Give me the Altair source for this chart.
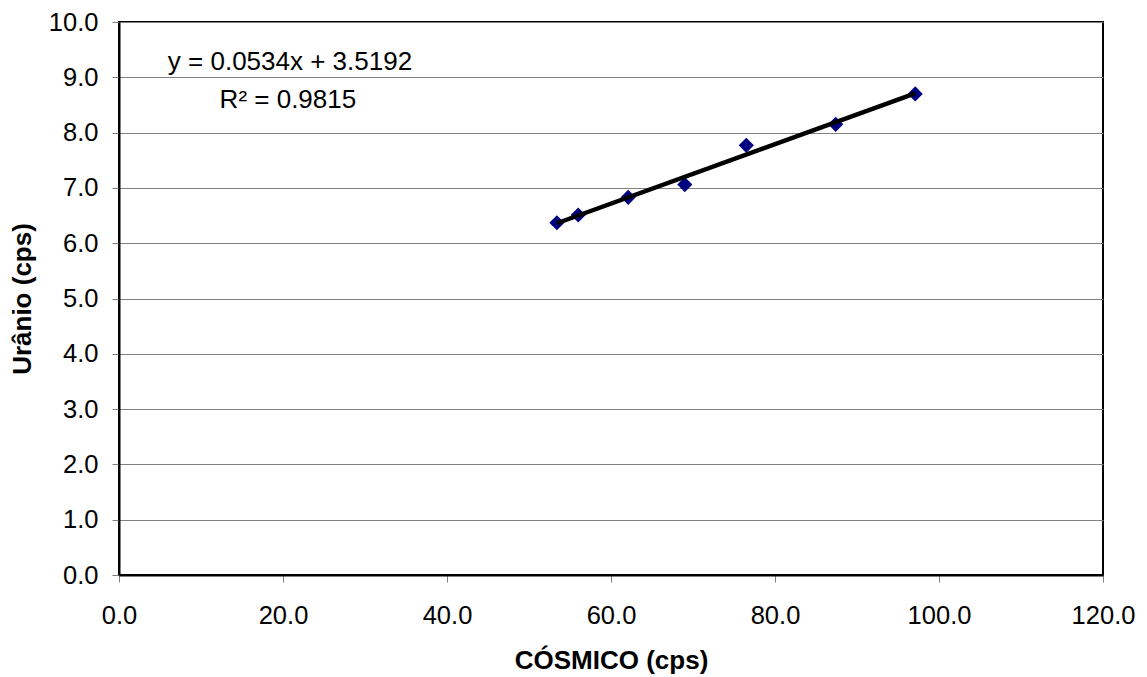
import altair as alt
import pandas as pd

# Data
cosmico = [53.4, 56.0, 62.1, 69.0, 76.5, 87.4, 97.1]
uranio = [6.37, 6.51, 6.83, 7.06, 7.77, 8.15, 8.70]

eq_lines = ["y = 0.0534x + 3.5192", "R² = 0.9815"]
eq_x = [20.85, 20.6]
eq_y = [9.13, 8.44]

x_ticks = [0, 20, 40, 60, 80, 100, 120]
y_ticks = [0, 1, 2, 3, 4, 5, 6, 7, 8, 9, 10]

df = pd.DataFrame({"cosmico": cosmico, "uranio": uranio})
eq_df = pd.DataFrame({"text": eq_lines, "x": eq_x, "y": eq_y})

FONT = "Liberation Sans"

x_enc = alt.X(
    "cosmico:Q",
    scale=alt.Scale(domain=[0, 120], nice=False, zero=False),
    axis=alt.Axis(
        title="CÓSMICO (cps)",
        values=x_ticks,
        format=".1f",
        grid=False,
        domainColor="black",
        domainWidth=2,
        tickColor="#808080",
        tickWidth=1,
        tickSize=7,
        labelFont=FONT,
        labelFontSize=25.5,
        labelColor="black",
        labelBaseline="alphabetic",
        labelPadding=41,
        labelFlush=False,
        titleFont=FONT,
        titleFontSize=26,
        titleFontWeight="bold",
        titleColor="black",
        titleBaseline="alphabetic",
        titleAnchor="middle",
        titleX=492,
        titleY=93,
    ),
)

y_enc = alt.Y(
    "uranio:Q",
    scale=alt.Scale(domain=[0, 10], nice=False, zero=False),
    axis=alt.Axis(
        title="Urânio (cps)",
        values=y_ticks,
        format=".1f",
        grid=True,
        gridColor="#808080",
        gridWidth=1,
        gridOpacity=1,
        domainColor="black",
        domainWidth=2,
        tickColor="#808080",
        tickWidth=1,
        tickSize=7,
        labelFont=FONT,
        labelFontSize=25.5,
        labelColor="black",
        labelPadding=14,
        labelFlush=False,
        titleFont=FONT,
        titleFontSize=26,
        titleFontWeight="bold",
        titleColor="black",
        titleAngle=-90,
        titleBaseline="alphabetic",
        titleAlign="center",
        titleX=-89,
        titleY=276.5,
    ),
)

points = alt.Chart(df).mark_point(
    shape="diamond", filled=True, color="#000080", size=230, opacity=1
).encode(x=x_enc, y=y_enc)

trend = (
    alt.Chart(df)
    .transform_regression("cosmico", "uranio", method="linear")
    .mark_line(color="black", strokeWidth=4.5)
    .encode(x="cosmico:Q", y="uranio:Q")
)

eq_text = alt.Chart(eq_df).mark_text(
    font=FONT, fontSize=26, color="black", align="center", baseline="alphabetic"
).encode(x="x:Q", y="y:Q", text="text:N")

chart = (
    alt.layer(points, trend, eq_text)
    .properties(
        width=984,
        height=553,
        autosize=alt.AutoSizeParams(type="none"),
        padding={"left": 111, "top": 14, "right": 36, "bottom": 101},
        background="white",
    )
    .configure_view(stroke="black", strokeWidth=2)
)

chart.save("out.html", embed_options={"renderer": "svg", "actions": False})
